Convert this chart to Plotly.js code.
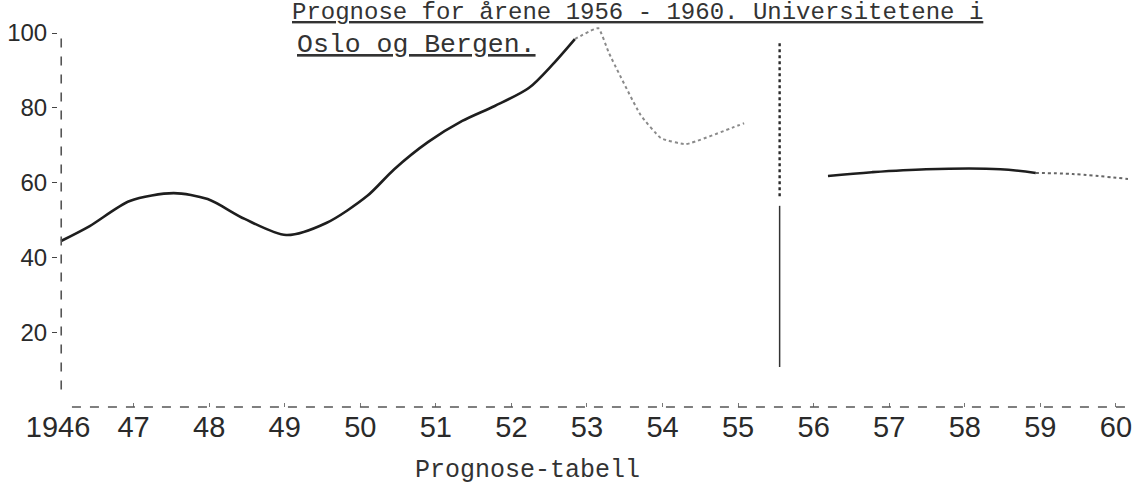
<!DOCTYPE html>
<html>
<head>
<meta charset="utf-8">
<script src="https://cdn.plot.ly/plotly-3.0.1.min.js"></script>
<style>html,body{margin:0;padding:0;background:#fff;}#chart{width:1133px;height:490px;}</style>
</head>
<body>
<div id="chart"></div>
<script>
const histYears = [1946.04, 1946.42, 1946.95, 1947.53, 1947.98, 1948.47, 1949.02, 1949.55, 1950.09, 1950.45, 1950.90, 1951.35, 1951.78, 1952.23, 1952.55, 1952.84];
const histValues = [44.4, 48.4, 55.1, 57.2, 55.6, 50.3, 46.0, 49.2, 56.4, 63.6, 70.9, 76.5, 80.5, 85.3, 91.7, 98.4];
// Faint continuation 1953–1955
const midYears = [1952.84, 1953.15, 1953.29, 1953.71, 1953.98, 1954.31, 1954.95, 1955.08];
const midValues = [98.4, 101.3, 94.7, 78.1, 71.9, 70.3, 74.9, 75.9];
// Divider between observed and forecast
const dividerYear = [1955.55, 1955.55];
const dividerDashed = [97.3, 55.6];
const dividerSolid = [53.8, 10.7];
// Forecast 1956–1960
const progYears = [1956.19, 1956.77, 1957.49, 1958.47, 1958.94];
const progValues = [61.8, 62.8, 63.6, 63.6, 62.6];
const progTailYears = [1958.94, 1959.43, 1960.16];
const progTailValues = [62.6, 62.3, 61.0];
// Axis ticks
const xTickYears = [1946, 1947, 1948, 1949, 1950, 1951, 1952, 1953, 1954, 1955, 1956, 1957, 1958, 1959, 1960];
const xTickLabels = ["1946", "47", "48", "49", "50", "51", "52", "53", "54", "55", "56", "57", "58", "59", "60"];
const yTickValues = [20, 40, 60, 80, 100];
const yTickLabels = ["20", "40", "60", "80", "100"];
const titleLine1 = "Prognose for årene 1956 - 1960. Universitetene i";
const titleLine2 = "Oslo og Bergen.";
const xAxisTitle = "Prognose-tabell";

const ink = "#1e1e1e";
const mono = "Liberation Mono, Courier New, monospace";
const traces = [
  {x: histYears, y: histValues, mode: "lines", line: {color: ink, width: 2.6, shape: "spline", smoothing: 0.8}, hoverinfo: "skip"},
  {x: midYears, y: midValues, mode: "lines", line: {color: "#8a8a8a", width: 2, dash: "dot", shape: "spline", smoothing: 0.4}, hoverinfo: "skip"},
  {x: dividerYear, y: dividerDashed, mode: "lines", line: {color: "#2a2a2a", width: 2.4, dash: "dot"}, hoverinfo: "skip"},
  {x: dividerYear, y: dividerSolid, mode: "lines", line: {color: "#333", width: 1.5}, hoverinfo: "skip"},
  {x: progYears, y: progValues, mode: "lines", line: {color: ink, width: 2.6, shape: "spline"}, hoverinfo: "skip"},
  {x: progTailYears, y: progTailValues, mode: "lines", line: {color: "#666", width: 2, dash: "dot", shape: "spline"}, hoverinfo: "skip"}
];

const layout = {
  width: 1133, height: 490,
  margin: {l: 58, r: 2, t: 20, b: 83},
  paper_bgcolor: "#fff", plot_bgcolor: "#fff",
  showlegend: false,
  xaxis: {
    range: [1946, 1960.2], tickvals: xTickYears, ticktext: xTickLabels,
    showgrid: false, zeroline: false, showline: false,
    ticks: "inside", ticklen: 4, tickcolor: "#777",
    tickfont: {family: "Liberation Sans Narrow, Liberation Sans, Arial", size: 29, color: "#2a2a2a"}
  },
  yaxis: {
    range: [0, 103.5], tickvals: yTickValues, ticktext: yTickLabels,
    showgrid: false, zeroline: false, showline: false,
    ticks: "outside", ticklen: 5, tickcolor: "#444",
    tickfont: {family: "Liberation Sans, Arial", size: 24, color: "#2a2a2a"}
  },
  shapes: [
    {type: "line", xref: "paper", yref: "paper", x0: 0.013, x1: 1, y0: 0, y1: 0, line: {color: "#555", width: 1.6, dash: "dash"}},
    {type: "line", xref: "paper", yref: "paper", x0: 0.003, x1: 0.003, y0: 0.045, y1: 0.966, line: {color: "#555", width: 1.6, dash: "dash"}}
  ],
  annotations: [
    {xref: "paper", yref: "paper", x: 0.216, y: 1.02, xanchor: "left", yanchor: "middle", showarrow: false, text: titleLine1,
     font: {family: mono, size: 24, color: "#333", lineposition: "under"}},
    {xref: "paper", yref: "paper", x: 0.221, y: 0.935, xanchor: "left", yanchor: "middle", showarrow: false, text: titleLine2,
     font: {family: mono, size: 26.5, color: "#333", lineposition: "under"}},
    {xref: "paper", yref: "paper", x: 0.438, y: -0.165, xanchor: "center", yanchor: "middle", showarrow: false, text: xAxisTitle,
     font: {family: mono, size: 25, color: "#333"}}
  ]
};

Plotly.newPlot("chart", traces, layout, {staticPlot: true, displayModeBar: false});
</script>
</body>
</html>
